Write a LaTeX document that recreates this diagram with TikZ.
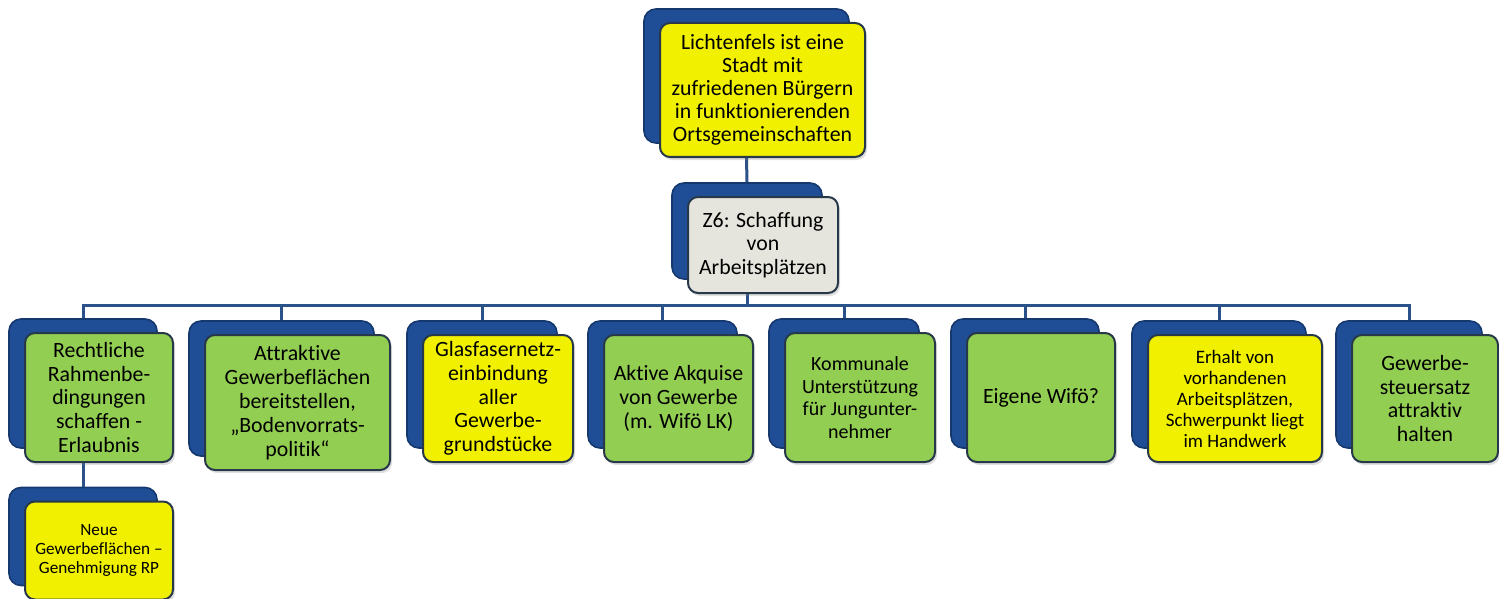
\documentclass[tikz,border=0pt]{standalone}
\usepackage{fontspec}
\setmainfont{Carlito}[Ligatures=NoCommon]
\usetikzlibrary{positioning,backgrounds,shadows}
\definecolor{tyellow}{HTML}{F0F000}
\definecolor{tgreen}{HTML}{92CE52}
\definecolor{tgray}{HTML}{E5E5DD}
\definecolor{tblue}{HTML}{1F4E96}
\definecolor{tblued}{HTML}{15386E}
\definecolor{tline}{HTML}{2A5288}
\definecolor{tedge}{HTML}{27384A}
\tikzset{
  % front card, glossy fill with a dark edge
  card/.style   = {rectangle, rounded corners=5pt, draw=tedge, fill=#1, line width=1pt,
                   align=center, inner sep=2pt, font=\fontsize{10.9}{11.8}\selectfont,
                   drop shadow={opacity=0.25, shadow xshift=1pt, shadow yshift=-1.5pt}},
  card/.default = tgreen,
  % dark blue plate behind each card
  plate/.style  = {rectangle, rounded corners=6pt, draw=tblued, fill=tblue, line width=0.8pt,
                   inner sep=0pt},
  sz/.style 2 args = {minimum width=#1, minimum height=#2},
  link/.style   = {draw=tline, line width=1.5pt},
  small/.style  = {font=\fontsize{10}{11.3}\selectfont},
  tiny/.style   = {font=\fontsize{9.5}{10.5}\selectfont},
}
\begin{document}
\begin{tikzpicture}[x=0.5pt,y=-0.5pt]
\useasboundingbox (0,0) rectangle (1499,599);
% cards
\node[card=tyellow, sz={102.5pt}{67pt}, font=\fontsize{10.9}{11.5}\selectfont] (goal) at (762.5,90)
  {Lichtenfels ist eine\\Stadt mit\\zufriedenen Bürgern\\in funktionierenden\\Ortsgemeinschaften};
\node[card=tgray, sz={75pt}{48pt}] (aim) at (763,245) {Z6: Schaffung\\von\\Arbeitsplätzen};
\node[card, sz={74pt}{64.5pt}] (k1) at (99,397.5)
  {Rechtliche\\Rahmenbe-\\dingungen\\schaffen -\\Erlaubnis};
\node[card, sz={92.5pt}{67.5pt}, font=\fontsize{10.9}{12}\selectfont] (k2) at (297.5,402.5)
  {Attraktive\\Gewerbeflächen\\bereitstellen,\\„Bodenvorrats-\\politik“};
\node[card=tyellow, sz={75pt}{63.5pt}] (k3) at (498,398.5)
  {Glasfasernetz-\\einbindung\\aller\\Gewerbe-\\grundstücke};
\node[card, sz={74.5pt}{63.5pt}] (k4) at (678.5,398.5) {Aktive Akquise\\von Gewerbe\\(m. Wifö LK)};
\node[card, small, sz={75pt}{64.5pt}] (k5) at (860,397.5)
  {Kommunale\\Unterstützung\\für Jungunter-\\nehmer};
\node[card, sz={74pt}{64.5pt}] (k6) at (1041,397.5) {Eigene Wifö?};
\node[card=tyellow, tiny, sz={87pt}{63.5pt}] (k7) at (1235,398.5)
  {Erhalt von\\vorhandenen\\Arbeitsplätzen,\\Schwerpunkt liegt\\im Handwerk};
\node[card, sz={73pt}{63.5pt}] (k8) at (1425,398.5) {Gewerbe-\\steuersatz\\attraktiv\\halten};
\node[card=tyellow, font=\fontsize{8.6}{9.6}\selectfont, sz={74pt}{49pt}] (sub) at (99,550.5)
  {Neue\\Gewerbeflächen –\\Genehmigung RP};
\begin{scope}[on background layer]
% plates
\node[plate, sz={102.5pt}{67pt}] (goalp) at ([xshift=-8pt,yshift=7pt]goal.center) {};
\node[plate, sz={75pt}{48pt}] (aimp) at ([xshift=-8pt,yshift=7pt]aim.center) {};
\node[plate, sz={74pt}{64.5pt}] (p1) at ([xshift=-8pt,yshift=7pt]k1.center) {};
\node[plate, sz={92.5pt}{67.5pt}] (p2) at ([xshift=-8pt,yshift=7pt]k2.center) {};
\node[plate, sz={75pt}{63.5pt}] (p3) at ([xshift=-8pt,yshift=7pt]k3.center) {};
\node[plate, sz={74.5pt}{63.5pt}] (p4) at ([xshift=-8pt,yshift=7pt]k4.center) {};
\node[plate, sz={75pt}{64.5pt}] (p5) at ([xshift=-8pt,yshift=7pt]k5.center) {};
\node[plate, sz={74pt}{64.5pt}] (p6) at ([xshift=-8pt,yshift=7pt]k6.center) {};
\node[plate, sz={87pt}{63.5pt}] (p7) at ([xshift=-8pt,yshift=7pt]k7.center) {};
\node[plate, sz={73pt}{63.5pt}] (p8) at ([xshift=-8pt,yshift=7pt]k8.center) {};
\node[plate, sz={74pt}{49pt}] (subp) at ([xshift=-8pt,yshift=7pt]sub.center) {};
% links
\coordinate (bar) at (0,305);
\draw[link] (goalp |- goal.south) -- (aimp.north);
\foreach \i in {1,...,8}
  \draw[link] (aimp |- aim.south) -- (aimp |- bar) -| (p\i.north);
\draw[link] (p1 |- k1.south) -- (subp.north);
\end{scope}
\end{tikzpicture}
\end{document}
